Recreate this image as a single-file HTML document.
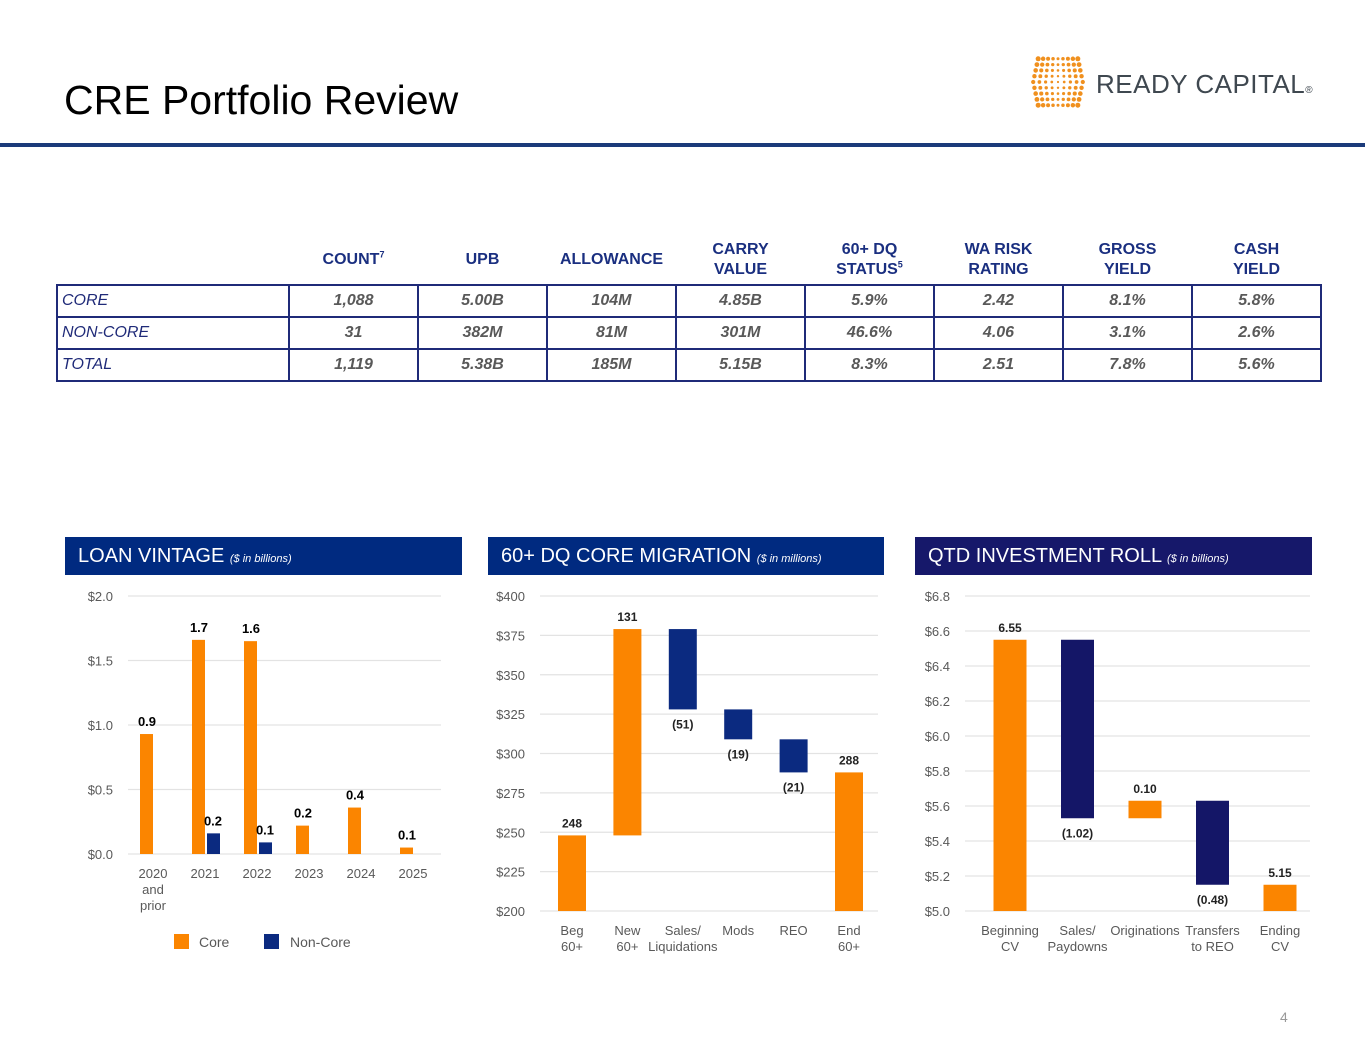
<!DOCTYPE html>
<html><head><meta charset="utf-8"><style>
body{margin:0;width:1365px;height:1055px;background:#fff;font-family:"Liberation Sans",Arial,sans-serif;position:relative;overflow:hidden}
.abs{position:absolute}
table{position:absolute;left:56px;top:236px;border-collapse:collapse;font-family:"Liberation Sans",sans-serif}
th{color:#1a2f80;font-size:16px;font-weight:bold;height:48px;padding:0;vertical-align:middle;line-height:20px}
td{border:2px solid #1f2a78;height:30px;padding:0;font-size:16px;font-style:italic;font-weight:bold;color:#595959;text-align:center}
td.lab{color:#1f2a78;font-weight:normal;text-align:left;padding-left:4px}
sup{font-size:9px;line-height:0}
.hdr{position:absolute;top:537px;height:38px;color:#fff;font-size:20px;line-height:38px;padding-left:13px;box-sizing:border-box}
.hdr i{font-size:11px}
</style></head><body>
<div class="abs" style="left:64px;top:77px;font-size:41px;color:#000">CRE Portfolio Review</div>
<div class="abs" style="left:0;top:143px;width:1365px;height:4px;background:#1b3a7a"></div>
<div class="abs" style="left:1028px;top:55px;width:290px;height:55px">
<svg width="70" height="55" id="lm"></svg>
<div class="abs" style="left:68px;top:14px;font-size:26px;color:#3f4850;letter-spacing:0.5px">READY CAPITAL<span style="font-size:10px">®</span></div>
</div>
<table>
<tr><th style="width:232px"></th><th style="width:129px">COUNT<sup>7</sup></th><th style="width:129px">UPB</th><th style="width:129px">ALLOWANCE</th><th style="width:129px">CARRY<br>VALUE</th><th style="width:129px">60+ DQ<br>STATUS<sup>5</sup></th><th style="width:129px">WA RISK<br>RATING</th><th style="width:129px">GROSS<br>YIELD</th><th style="width:129px">CASH<br>YIELD</th></tr>
<tr><td class="lab">CORE</td><td>1,088</td><td>5.00B</td><td>104M</td><td>4.85B</td><td>5.9%</td><td>2.42</td><td>8.1%</td><td>5.8%</td></tr>
<tr><td class="lab">NON-CORE</td><td>31</td><td>382M</td><td>81M</td><td>301M</td><td>46.6%</td><td>4.06</td><td>3.1%</td><td>2.6%</td></tr>
<tr><td class="lab">TOTAL</td><td>1,119</td><td>5.38B</td><td>185M</td><td>5.15B</td><td>8.3%</td><td>2.51</td><td>7.8%</td><td>5.6%</td></tr>
</table>
<div class="hdr" style="left:65px;width:397px;background:#002a80">LOAN VINTAGE <i>($ in billions)</i></div>
<div class="hdr" style="left:488px;width:396px;background:#002a80">60+ DQ CORE MIGRATION <i>($ in millions)</i></div>
<div class="hdr" style="left:915px;width:397px;background:#16186a">QTD INVESTMENT ROLL <i>($ in billions)</i></div>
<svg class="abs" id="charts" style="left:0;top:0" width="1365" height="1055" font-family="Liberation Sans, sans-serif"></svg>
<div class="abs" style="left:1280px;top:1009px;font-size:14px;color:#999">4</div>
<script>
// Loan vintage data
const vCats=[["2020","and","prior"],["2021"],["2022"],["2023"],["2024"],["2025"]];
const vCore=[0.93,1.66,1.65,0.22,0.36,0.05];
const vCoreLbl=["0.9","1.7","1.6","0.2","0.4","0.1"];
const vNon=[0,0.16,0.09,0,0,0];
const vNonLbl=["","0.2","0.1","","",""];
const vTicks=[0,0.5,1.0,1.5,2.0];
// DQ migration data
const dCats=[["Beg","60+"],["New","60+"],["Sales/","Liquidations"],["Mods"],["REO"],["End","60+"]];
const dDelta=[248,131,-51,-19,-21,288];
const dType=["total","delta","delta","delta","delta","total"];
const dLbl=["248","131","(51)","(19)","(21)","288"];
const dTicks=[200,225,250,275,300,325,350,375,400];
// Investment roll data
const rCats=[["Beginning","CV"],["Sales/","Paydowns"],["Originations"],["Transfers","to REO"],["Ending","CV"]];
const rDelta=[6.55,-1.02,0.10,-0.48,5.15];
const rType=["total","delta","delta","delta","total"];
const rLbl=["6.55","(1.02)","0.10","(0.48)","5.15"];
const rTicks=[5.0,5.2,5.4,5.6,5.8,6.0,6.2,6.4,6.6,6.8];

const NS="http://www.w3.org/2000/svg";
const svg=document.getElementById('charts');
function mk(tag,at,txt){const e=document.createElementNS(NS,tag);for(const k in at)e.setAttribute(k,at[k]);if(txt!==undefined)e.textContent=txt;svg.appendChild(e);return e;}
const OR="#fb8500",NV="#0b2a80",NV2="#141667";

// logo dots
const lm=document.getElementById('lm');
for(let r=0;r<9;r++)for(let c=0;c<9;c++){const dx=(c-4);const dy=(r-4);const x=30+dx*6.2*(1-0.05*Math.abs(dy));const y=27+dy*5.8;const rad=1.1+0.25*Math.abs(dx)+0.1*Math.abs(dy);
const d=document.createElementNS(NS,'circle');d.setAttribute('cx',x);d.setAttribute('cy',y);d.setAttribute('r',rad);d.setAttribute('fill','#f0901e');lm.appendChild(d);}

function axis(ticks,y,x0,x1,fmt){ticks.forEach(t=>{const yy=y(t);
const g=mk('line',{x1:x0,x2:x1,y1:yy,y2:yy,stroke:'#e3e3e3','stroke-width':1.3});
const l=mk('text',{x:x0-15,y:yy+5,'text-anchor':'end','font-size':13,fill:'#595959'},fmt(t));});}
function cats(list,xc,y0){list.forEach((c,i)=>c.forEach((s,j)=>{const t=mk('text',{x:xc(i),y:y0+j*16,'text-anchor':'middle','font-size':13,fill:'#595959'},s);}));}

// Chart 1
{const y=v=>854-v*129;const xc=i=>153+i*52;
axis(vTicks,y,128,441,t=>'$'+t.toFixed(1));
vCore.forEach((v,i)=>{const b=mk('rect',{x:xc(i)-13,y:y(v),width:13,height:854-y(v),fill:OR});
const l=mk('text',{x:xc(i)-6,y:y(v)-8,'text-anchor':'middle','font-size':13,'font-weight':'bold'},vCoreLbl[i]);});
vNon.forEach((v,i)=>{if(v<=0)return;const b=mk('rect',{x:xc(i)+2,y:y(v),width:13,height:854-y(v),fill:NV});
const l=mk('text',{x:xc(i)+8,y:y(v)-8,'text-anchor':'middle','font-size':13,'font-weight':'bold'},vNonLbl[i]);});
cats(vCats,i=>xc(i),878);
let e=mk('rect',{x:174,y:934,width:15,height:15,fill:OR});
e=mk('text',{x:199,y:947,'font-size':14,fill:'#595959'},'Core');
e=mk('rect',{x:264,y:934,width:15,height:15,fill:NV});
e=mk('text',{x:290,y:947,'font-size':14,fill:'#595959'},'Non-Core');}

function waterfall(deltas,types,lbls,y,xc,w,base,posC,negC,name){let run=0;
deltas.forEach((d,i)=>{let top,bot,col;
if(types[i]==='total'){run=d;top=y(d);bot=y(base);col=posC;}
else{const a=run,b=run+d;run=b;top=y(Math.max(a,b));bot=y(Math.min(a,b));col=d>=0?posC:negC;}
const r=mk('rect',{x:xc(i)-w/2,y:top,width:w,height:bot-top,fill:col});
const below=types[i]==='delta'&&d<0;
const l=mk('text',{x:xc(i),y:below?bot+19:top-8,'text-anchor':'middle','font-size':12,'font-weight':'bold',fill:'#222'},lbls[i]);});}

// Chart 2
{const y=v=>911-(v-200)*1.575;const xc=i=>572+i*55.4;
axis(dTicks,y,540,878,t=>'$'+t);
waterfall(dDelta,dType,dLbl,y,xc,28,200,OR,NV,'dq');
cats(dCats,xc,935);}
// Chart 3
{const y=v=>911-(v-5)*175;const xc=i=>1010+i*67.5;
axis(rTicks,y,965,1310,t=>'$'+t.toFixed(1));
waterfall(rDelta,rType,rLbl,y,xc,33,5,OR,NV2,'roll');
cats(rCats,xc,935);}
</script>
</body></html>
